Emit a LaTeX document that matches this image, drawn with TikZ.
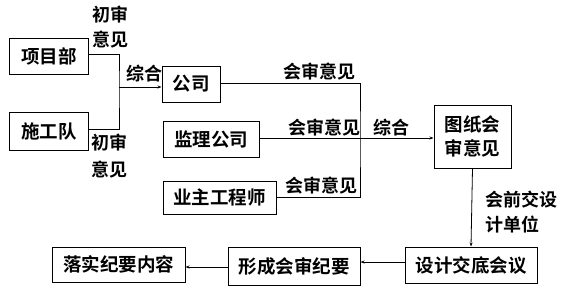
\documentclass[tikz,border=0pt]{standalone}
\usepackage{fontspec}
\setmainfont{Noto Sans CJK SC}
\newfontfamily\cjk{Noto Sans CJK SC Bold}
\usetikzlibrary{arrows.meta}
\begin{document}
\begin{tikzpicture}[x=1pt,y=-1pt,
  box/.style={draw,line width=1pt,inner sep=0pt,font=\cjk\fontsize{18.5}{20}\selectfont},
  lbl/.style={inner sep=0pt,font=\cjk\fontsize{18}{20}\selectfont,align=left},
  ln/.style={line width=0.8pt},
  arr/.style={ln,-{Stealth[length=4pt,width=3pt]}}]
\useasboundingbox (0,0) rectangle (570,295);
\node[box,minimum width=79pt,minimum height=36pt] (xmb) at (49,56) {项目部};
\node[box,minimum width=79pt,minimum height=38pt] (sgd) at (49,131) {施工队};
\node[box,minimum width=58pt,minimum height=36pt] (gs) at (191,84) {公司};
\node[box,minimum width=96pt,minimum height=36pt] (jl) at (211,139) {监理公司};
\node[box,minimum width=113pt,minimum height=33pt] (yz) at (219.5,197.5) {业主工程师};
\node[box,minimum width=77pt,minimum height=63pt,align=center] (tz) at (472.5,136.5) {图纸会\\[4pt]审意见};
\node[box,minimum width=132pt,minimum height=36pt] (sj) at (471,265) {设计交底会议};
\node[box,minimum width=132pt,minimum height=38pt] (xc) at (294,266) {形成会审纪要};
\node[box,minimum width=133pt,minimum height=35pt] (ls) at (118.5,264.5) {落实纪要内容};
\coordinate (j1) at (119,87);
\coordinate (j2) at (360,138);
\draw[ln] (xmb.east|-0,54) -| (j1) |- (sgd.east|-0,129);
\draw[arr] (j1) -- (gs.west|-j1);
\draw[ln] (gs.east|-0,83) -| (j2) |- (yz.east|-0,197);
\draw[arr] (jl.east|-j2) -- (tz.west|-j2);
\draw[arr] (tz.south) -- (sj.north);
\draw[arr] (sj.west|-0,262) -- (xc.east|-0,262);
\draw[arr] (xc.west|-0,267) -- (ls.east|-0,267);
\node[lbl,anchor=west] (l1) at (92,15) {初审};
\node[lbl,anchor=west] (l2) at (92,40) {意见};
\node[lbl,anchor=west] (l3) at (126,74) {综合};
\node[lbl,anchor=west] (l4) at (91,143) {初审};
\node[lbl,anchor=west] (l5) at (91,170) {意见};
\node[lbl,anchor=west] (l6) at (283,72) {会审意见};
\node[lbl,anchor=west] (l7) at (288,128) {会审意见};
\node[lbl,anchor=west] (l8) at (373,128) {综合};
\node[lbl,anchor=west] (l9) at (285,186) {会审意见};
\node[lbl,anchor=west] (l10) at (485,200) {会前交设};
\node[lbl,anchor=west] (l11) at (485,225) {计单位};
\end{tikzpicture}
\end{document}
